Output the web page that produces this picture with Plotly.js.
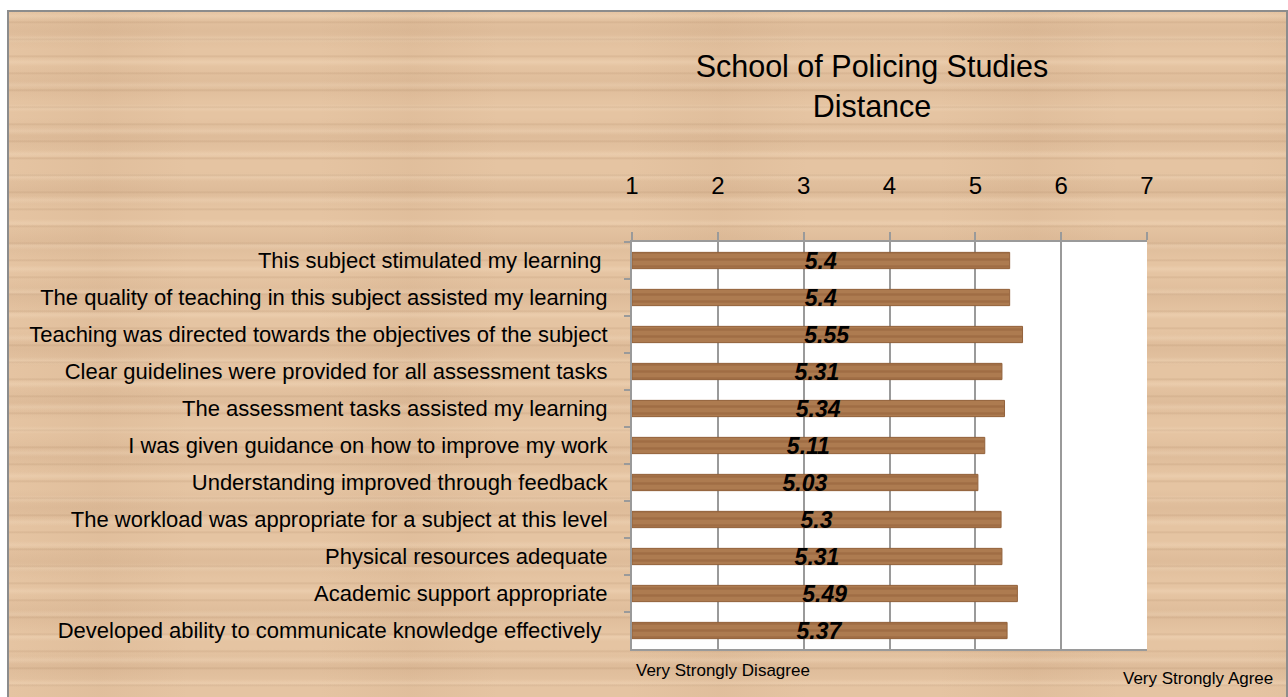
<!DOCTYPE html>
<html>
<head>
<meta charset="utf-8">
<script src="https://cdn.plot.ly/plotly-3.0.1.min.js"></script>
<style>
html,body{margin:0;padding:0;background:#fff;}
#wrap{position:absolute;left:0;top:0;width:1288px;height:697px;overflow:hidden;background:#fff;}
#wood{position:absolute;left:7px;top:10px;width:1277px;height:700px;border:2px solid #8c8c8c;
background-color:#e5c4a2;
background-image:
repeating-linear-gradient(180deg, rgba(150,110,75,0.0) 0px, rgba(150,110,75,0.0) 9px, rgba(150,110,75,0.16) 10px, rgba(150,110,75,0.0) 12px, rgba(150,110,75,0.0) 17px),
repeating-linear-gradient(180deg, rgba(255,235,210,0.0) 0px, rgba(255,235,210,0.22) 4px, rgba(255,235,210,0.0) 8px, rgba(255,235,210,0.0) 23px),
repeating-linear-gradient(180deg, rgba(160,115,80,0.0) 0px, rgba(160,115,80,0.10) 19px, rgba(160,115,80,0.0) 37px, rgba(160,115,80,0.0) 53px),
repeating-linear-gradient(90deg, rgba(170,125,85,0.0) 0px, rgba(170,125,85,0.08) 90px, rgba(170,125,85,0.0) 180px, rgba(170,125,85,0.0) 310px);
}
#chart{position:absolute;left:0;top:0;width:1288px;height:697px;}
</style>
</head>
<body>
<div id="wrap"><div id="wood"></div><div id="chart"></div></div>
<script>
var categories = [
  "This subject stimulated my learning\u00a0",
  "The quality of teaching in this subject assisted my learning",
  "Teaching was directed towards the objectives of the subject",
  "Clear guidelines were provided for all assessment tasks",
  "The assessment tasks assisted my learning",
  "I was given guidance on how to improve my work",
  "Understanding improved through feedback",
  "The workload was appropriate for a subject at this level",
  "Physical resources adequate",
  "Academic support appropriate",
  "Developed ability to communicate knowledge effectively\u00a0"
];
var values = [5.4, 5.4, 5.55, 5.31, 5.34, 5.11, 5.03, 5.3, 5.31, 5.49, 5.37];
var valueLabels = ["5.4", "5.4", "5.55", "5.31", "5.34", "5.11", "5.03", "5.3", "5.31", "5.49", "5.37"];
var tickVals = [1, 2, 3, 4, 5, 6, 7];
var tickText = ["1", "2", "3", "4", "5", "6", "7"];
var scaleLow = "Very Strongly Disagree";
var scaleHigh = "Very Strongly Agree";
var titleText = "School of Policing Studies<br>Distance";

var narrow = "'Liberation Sans Narrow', 'Arial Narrow', 'Liberation Sans', Arial, sans-serif";

var trace = {
  type: "bar",
  orientation: "h",
  y: categories,
  x: values.map(function(v){return v - 1;}),
  base: 1,
  width: 0.44,
  text: valueLabels,
  textposition: "inside",
  insidetextanchor: "middle",
  textangle: 0,
  constraintext: "none",
  cliponaxis: false,
  textfont: {family: narrow, size: 23, color: "#000", weight: "bold", style: "italic"},
  marker: {
    color: "#a8754a",
    line: {color: "#93623b", width: 1},
    pattern: {shape: "-", fgcolor: "#a06d44", bgcolor: "#ad7b50", size: 7, solidity: 0.35, fillmode: "replace"}
  },
  hoverinfo: "skip"
};

var layout = {
  width: 1288,
  height: 697,
  paper_bgcolor: "rgba(0,0,0,0)",
  plot_bgcolor: "#ffffff",
  margin: {l: 632, r: 141, t: 242, b: 48, pad: 0},
  showlegend: false,
  bargap: 0.56,
  title: {
    text: titleText,
    font: {family: narrow, size: 30.5, color: "#000"},
    x: 0.677, xref: "container", xanchor: "center",
    y: 0.889, yref: "container", yanchor: "middle"
  },
  xaxis: {
    range: [1, 7],
    side: "top",
    tickvals: tickVals,
    ticktext: tickText,
    showgrid: true,
    gridcolor: "#9a9a9a",
    gridwidth: 2,
    zeroline: false,
    showline: true,
    linecolor: "#9a9a9a",
    linewidth: 2,
    mirror: true,
    ticks: "outside",
    ticklen: 8,
    tickwidth: 2,
    tickcolor: "#9a9a9a",
    ticklabelstandoff: 28,
    tickfont: {family: narrow, size: 24, color: "#000"},
    fixedrange: true
  },
  yaxis: {
    type: "category",
    autorange: "reversed",
    tickson: "boundaries",
    ticks: "outside",
    ticklen: 6,
    tickwidth: 2,
    tickcolor: "#9a9a9a",
    showline: true,
    linecolor: "#9a9a9a",
    linewidth: 2,
    showgrid: false,
    zeroline: false,
    ticklabelstandoff: 18,
    tickfont: {family: narrow, size: 22, color: "#000"},
    fixedrange: true
  },
  annotations: [
    {text: scaleLow, xref: "paper", yref: "paper", x: 0.004, y: -0.052, xanchor: "left", yanchor: "middle",
     showarrow: false, font: {family: narrow, size: 17, color: "#000"}},
    {text: scaleHigh, xref: "paper", yref: "paper", x: 1.248, y: -0.073, xanchor: "right", yanchor: "middle",
     showarrow: false, font: {family: narrow, size: 17, color: "#000"}}
  ]
};

Plotly.newPlot("chart", [trace], layout, {displayModeBar: false, staticPlot: true});
</script>
</body>
</html>
